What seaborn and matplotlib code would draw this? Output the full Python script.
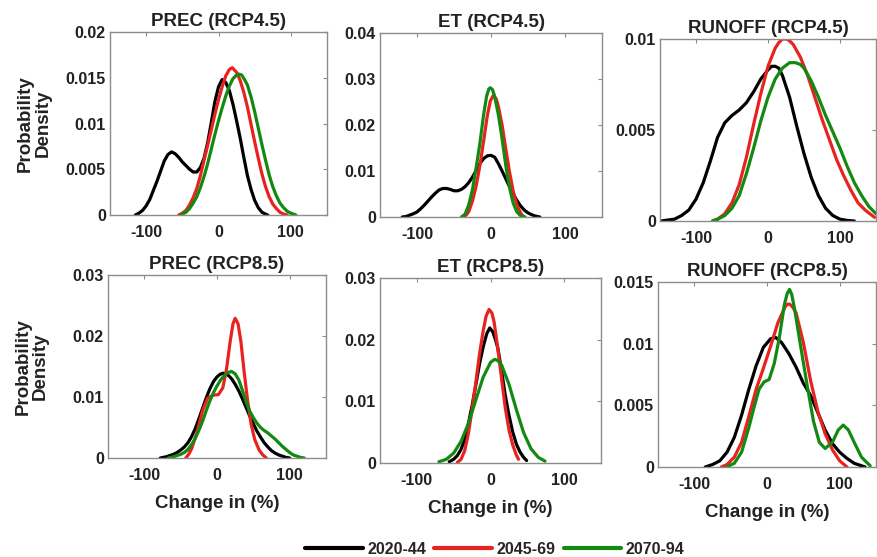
import matplotlib
matplotlib.use("Agg")
import matplotlib.pyplot as plt
import pandas as pd
import seaborn as sns
from matplotlib.lines import Line2D

PERIODS = ["2020-44", "2045-69", "2070-94"]
COLORS = ["#000000", "#e8231f", "#128a12"]
X_TICKS = [-100, 0, 100]

# ---- PREC (RCP4.5) ----
prec45_x_2020 = [-115, -110, -105, -100, -95, -90, -85, -80, -75, -70, -65, -60, -55, -50, -45, -40, -35, -30, -25, -20, -15, -10, -5, 0, 5, 10, 15, 20, 25, 30, 35, 40, 45, 50, 55, 60, 65, 68]
prec45_y_2020 = [0, 0.0002, 0.0005, 0.0010, 0.0017, 0.0027, 0.0037, 0.0048, 0.0059, 0.0066, 0.0069, 0.0067, 0.0063, 0.0058, 0.0054, 0.0050, 0.0047, 0.0047, 0.0052, 0.0062, 0.0079, 0.0101, 0.0124, 0.0140, 0.0148, 0.0145, 0.0136, 0.0121, 0.0103, 0.0084, 0.0063, 0.0043, 0.0028, 0.0016, 0.0008, 0.0003, 0.0001, 0]
prec45_x_2045 = [-55, -50, -45, -40, -35, -30, -25, -20, -15, -10, -5, 0, 5, 10, 15, 19, 25, 30, 35, 40, 45, 50, 55, 60, 65, 70, 75, 80, 85, 90, 95]
prec45_y_2045 = [0, 0.0002, 0.0005, 0.0011, 0.0019, 0.0029, 0.0043, 0.0060, 0.0076, 0.0093, 0.0110, 0.0126, 0.0140, 0.0152, 0.0159, 0.0161, 0.0156, 0.0147, 0.0134, 0.0118, 0.0099, 0.0080, 0.0062, 0.0045, 0.0031, 0.0020, 0.0012, 0.0007, 0.0003, 0.0001, 0]
prec45_x_2070 = [-52, -50, -45, -40, -35, -30, -25, -20, -15, -10, -5, 0, 5, 10, 15, 20, 25, 28, 32, 36, 40, 45, 50, 55, 60, 65, 70, 75, 80, 85, 90, 95, 100, 107]
prec45_y_2070 = [0, 0.0001, 0.0003, 0.0007, 0.0013, 0.0020, 0.0030, 0.0042, 0.0056, 0.0072, 0.0088, 0.0103, 0.0117, 0.0130, 0.0141, 0.0149, 0.0153, 0.0154, 0.0153, 0.0148, 0.0142, 0.0129, 0.0113, 0.0095, 0.0077, 0.0060, 0.0044, 0.0031, 0.0021, 0.0013, 0.0008, 0.0004, 0.0002, 0]

# ---- ET (RCP4.5) ----
et45_x_2020 = [-120, -115, -110, -105, -100, -95, -90, -85, -80, -75, -70, -65, -60, -55, -50, -45, -40, -35, -30, -25, -20, -15, -10, -5, 0, 5, 10, 15, 20, 25, 30, 35, 40, 45, 50, 55, 60, 66]
et45_y_2020 = [0, 0.0001, 0.0004, 0.0007, 0.0011, 0.0018, 0.0026, 0.0035, 0.0044, 0.0052, 0.0059, 0.0062, 0.0062, 0.0060, 0.0057, 0.0057, 0.0060, 0.0066, 0.0075, 0.0087, 0.0101, 0.0116, 0.0127, 0.0133, 0.0134, 0.0130, 0.0116, 0.0100, 0.0083, 0.0066, 0.0050, 0.0036, 0.0024, 0.0015, 0.0009, 0.0005, 0.0002, 0]
et45_x_2045 = [-37, -33, -30, -25, -20, -15, -10, -5, -1, 3, 7, 10, 15, 20, 25, 30, 35, 40, 44]
et45_y_2045 = [0, 0.0005, 0.0012, 0.0035, 0.0068, 0.0112, 0.0165, 0.0220, 0.0252, 0.0264, 0.0257, 0.0240, 0.0200, 0.0148, 0.0098, 0.0056, 0.0026, 0.0009, 0]
et45_x_2070 = [-40, -35, -30, -25, -20, -15, -10, -6, -3, -1, 2, 5, 10, 15, 20, 25, 30, 35, 40, 46]
et45_y_2070 = [0, 0.0006, 0.0027, 0.0060, 0.0108, 0.0160, 0.0222, 0.0262, 0.0278, 0.0281, 0.0277, 0.0262, 0.0222, 0.0170, 0.0112, 0.0064, 0.0030, 0.0011, 0.0003, 0]

# ---- RUNOFF (RCP4.5) ----
run45_x_2020 = [-148, -140, -130, -120, -110, -100, -90, -80, -70, -60, -50, -40, -30, -20, -10, 0, 5, 10, 15, 20, 30, 40, 50, 60, 70, 80, 90, 100, 110, 120]
run45_y_2020 = [0, 0.00005, 0.0001, 0.0003, 0.0006, 0.0012, 0.0021, 0.0033, 0.0046, 0.0054, 0.0058, 0.0061, 0.0065, 0.0071, 0.0078, 0.0083, 0.0085, 0.0085, 0.0084, 0.0080, 0.0068, 0.0052, 0.0037, 0.0024, 0.0014, 0.0007, 0.0003, 0.0001, 0.00003, 0]
run45_x_2045 = [-77, -70, -60, -50, -40, -30, -20, -10, 0, 10, 15, 20, 26, 30, 35, 45, 55, 65, 75, 85, 95, 105, 115, 125, 135, 148]
run45_y_2045 = [0, 0.0001, 0.0004, 0.0010, 0.0020, 0.0035, 0.0053, 0.0070, 0.0085, 0.0095, 0.0098, 0.0100, 0.0100, 0.0099, 0.0097, 0.0090, 0.0080, 0.0068, 0.0056, 0.0045, 0.0034, 0.0025, 0.0017, 0.0010, 0.0006, 0.0002]
run45_x_2070 = [-77, -70, -60, -50, -40, -30, -20, -10, 0, 10, 20, 30, 38, 45, 50, 60, 70, 80, 90, 100, 110, 120, 130, 140, 150]
run45_y_2070 = [0, 0.0001, 0.0003, 0.0007, 0.0014, 0.0026, 0.0040, 0.0055, 0.0068, 0.0078, 0.0084, 0.0087, 0.0087, 0.0086, 0.0084, 0.0077, 0.0068, 0.0058, 0.0049, 0.0040, 0.0030, 0.0021, 0.0014, 0.0008, 0.0004]

# ---- PREC (RCP8.5) ----
prec85_x_2020 = [-78, -70, -65, -60, -55, -50, -45, -40, -35, -30, -25, -20, -15, -10, -5, 0, 4, 8, 12, 16, 20, 25, 30, 35, 40, 45, 50, 55, 60, 65, 70, 75, 80, 85, 90, 95, 100]
prec85_y_2020 = [0, 0.0002, 0.0004, 0.0006, 0.0009, 0.0013, 0.0018, 0.0025, 0.0035, 0.0048, 0.0064, 0.0081, 0.0098, 0.0113, 0.0125, 0.0133, 0.0137, 0.0139, 0.0138, 0.0135, 0.0130, 0.0121, 0.0110, 0.0097, 0.0083, 0.0069, 0.0056, 0.0044, 0.0034, 0.0025, 0.0018, 0.0012, 0.0008, 0.0005, 0.0003, 0.0001, 0]
prec85_x_2045 = [-43, -39, -35, -28, -20, -13, -5, 2, 8, 13, 18, 22, 25, 29, 33, 37, 42, 47, 52, 58, 63, 68]
prec85_y_2045 = [0, 0.0006, 0.0015, 0.0040, 0.0077, 0.0098, 0.0103, 0.0104, 0.0115, 0.0145, 0.0190, 0.0220, 0.0229, 0.0220, 0.0190, 0.0145, 0.0095, 0.0055, 0.0030, 0.0013, 0.0005, 0]
prec85_x_2070 = [-67, -60, -55, -50, -45, -40, -35, -30, -25, -20, -15, -10, -5, 0, 5, 10, 15, 20, 25, 30, 35, 40, 45, 50, 55, 60, 65, 70, 75, 80, 85, 90, 95, 100, 105, 110, 115, 120]
prec85_y_2070 = [0, 0.0002, 0.0004, 0.0006, 0.0009, 0.0014, 0.0022, 0.0032, 0.0045, 0.0060, 0.0077, 0.0093, 0.0107, 0.0118, 0.0128, 0.0135, 0.0140, 0.0142, 0.0138, 0.0128, 0.0111, 0.0092, 0.0077, 0.0066, 0.0057, 0.0050, 0.0045, 0.0041, 0.0036, 0.0031, 0.0025, 0.0019, 0.0014, 0.0009, 0.0005, 0.0003, 0.0001, 0]

# ---- ET (RCP8.5) ----
et85_x_2020 = [-56, -50, -45, -40, -35, -30, -25, -20, -15, -10, -5, -1, 3, 7, 10, 15, 20, 25, 30, 35, 40, 45, 49]
et85_y_2020 = [0.0002, 0.0006, 0.0012, 0.0022, 0.0038, 0.0064, 0.0093, 0.0126, 0.0160, 0.0188, 0.0210, 0.0219, 0.0213, 0.0199, 0.0186, 0.0150, 0.0110, 0.0078, 0.0051, 0.0031, 0.0018, 0.0009, 0.0004]
et85_x_2045 = [-45, -40, -35, -30, -25, -20, -15, -10, -6, -2, 2, 5, 10, 15, 20, 25, 30, 35, 38]
et85_y_2045 = [0.0001, 0.0006, 0.0020, 0.0048, 0.0087, 0.0130, 0.0176, 0.0214, 0.0238, 0.0249, 0.0243, 0.0228, 0.0185, 0.0137, 0.0090, 0.0054, 0.0030, 0.0013, 0.0006]
et85_x_2070 = [-70, -60, -50, -40, -30, -20, -10, 0, 3, 6, 10, 15, 25, 35, 45, 55, 65, 74]
et85_y_2070 = [0.0002, 0.0006, 0.0016, 0.0035, 0.0064, 0.0102, 0.0139, 0.0163, 0.0166, 0.0168, 0.0166, 0.0159, 0.0128, 0.0087, 0.0049, 0.0023, 0.0009, 0.0003]

# ---- RUNOFF (RCP8.5) ----
run85_x_2020 = [-85, -75, -65, -55, -45, -35, -25, -15, -5, 5, 12, 20, 30, 40, 50, 60, 70, 80, 90, 100, 110, 120, 135]
run85_y_2020 = [0, 0.0002, 0.0005, 0.0012, 0.0024, 0.0042, 0.0063, 0.0082, 0.0097, 0.0104, 0.0105, 0.0101, 0.0092, 0.0081, 0.0068, 0.0058, 0.0044, 0.0030, 0.0019, 0.0012, 0.0007, 0.0003, 0]
run85_x_2045 = [-63, -55, -45, -35, -25, -15, -5, 5, 15, 25, 28, 31, 35, 40, 50, 60, 70, 80, 90, 100, 110]
run85_y_2045 = [0, 0.0002, 0.0008, 0.0020, 0.0041, 0.0063, 0.0080, 0.0098, 0.0117, 0.0130, 0.0132, 0.0132, 0.0130, 0.0125, 0.0101, 0.0070, 0.0045, 0.0027, 0.0014, 0.0005, 0]
run85_x_2070 = [-56, -45, -35, -25, -18, -11, -4, 3, 10, 17, 24, 28, 31, 34, 38, 46, 55, 64, 72, 80, 90, 98, 105, 112, 120, 130, 142]
run85_y_2070 = [0, 0.0003, 0.0012, 0.0032, 0.0048, 0.0063, 0.0069, 0.0071, 0.0084, 0.0105, 0.0132, 0.0141, 0.0144, 0.0140, 0.0128, 0.0099, 0.0067, 0.0037, 0.0020, 0.0015, 0.0020, 0.0030, 0.0034, 0.0030, 0.0020, 0.0008, 0.0001]


def frame(xs, ys):
    parts = []
    for period, x, y in zip(PERIODS, xs, ys):
        parts.append(pd.DataFrame({"change": x, "density": y, "period": period}))
    return pd.concat(parts, ignore_index=True)


panels = [
    ("PREC (RCP4.5)", frame([prec45_x_2020, prec45_x_2045, prec45_x_2070], [prec45_y_2020, prec45_y_2045, prec45_y_2070]),
     [0, 0.005, 0.01, 0.015, 0.02], ["0", "0.005", "0.01", "0.015", "0.02"]),
    ("ET (RCP4.5)", frame([et45_x_2020, et45_x_2045, et45_x_2070], [et45_y_2020, et45_y_2045, et45_y_2070]),
     [0, 0.01, 0.02, 0.03, 0.04], ["0", "0.01", "0.02", "0.03", "0.04"]),
    ("RUNOFF (RCP4.5)", frame([run45_x_2020, run45_x_2045, run45_x_2070], [run45_y_2020, run45_y_2045, run45_y_2070]),
     [0, 0.005, 0.01], ["0", "0.005", "0.01"]),
    ("PREC (RCP8.5)", frame([prec85_x_2020, prec85_x_2045, prec85_x_2070], [prec85_y_2020, prec85_y_2045, prec85_y_2070]),
     [0, 0.01, 0.02, 0.03], ["0", "0.01", "0.02", "0.03"]),
    ("ET (RCP8.5)", frame([et85_x_2020, et85_x_2045, et85_x_2070], [et85_y_2020, et85_y_2045, et85_y_2070]),
     [0, 0.01, 0.02, 0.03], ["0", "0.01", "0.02", "0.03"]),
    ("RUNOFF (RCP8.5)", frame([run85_x_2020, run85_x_2045, run85_x_2070], [run85_y_2020, run85_y_2045, run85_y_2070]),
     [0, 0.005, 0.01, 0.015], ["0", "0.005", "0.01", "0.015"]),
]

sns.set_style("white")
plt.rcParams["font.family"] = ["Liberation Sans", "DejaVu Sans"]
plt.rcParams["font.weight"] = "bold"
plt.rcParams["axes.unicode_minus"] = False

W, H = 877, 557
fig = plt.figure(figsize=(W / 100, H / 100), dpi=100)
fig.patch.set_facecolor("white")

# panel boxes in pixels: left, top, right, bottom
boxes = [
    (110, 32, 327, 215), (380, 33, 602, 217), (660, 39, 876, 221),
    (108, 275, 326, 458), (380, 278, 601, 463), (658, 282, 876, 467),
]

palette = dict(zip(PERIODS, COLORS))
edge = "#8c8c8c"

for i, ((title, df, yticks, ylabels), (l, t, r, b)) in enumerate(zip(panels, boxes)):
    ax = fig.add_axes([l / W, 1 - b / H, (r - l) / W, (b - t) / H])
    sns.lineplot(data=df, x="change", y="density", hue="period", palette=palette,
                 estimator=None, legend=False, linewidth=2.3, ax=ax)
    for ln in ax.get_lines():
        ln.set_solid_joinstyle("round")
        ln.set_solid_capstyle("round")
    ax.set_xlim(-150, 150)
    ax.set_ylim(yticks[0], yticks[-1])
    ax.set_xticks(X_TICKS)
    ax.set_xticklabels([str(v) for v in X_TICKS])
    ax.set_yticks(yticks)
    ax.set_yticklabels(ylabels)
    ax.tick_params(direction="in", top=True, right=True, length=3, width=0.8,
                   color=edge, labelsize=11.5, labelcolor="#222222")
    ax.tick_params(axis="x", pad=7)
    ax.tick_params(axis="y", pad=3)
    for s in ax.spines.values():
        s.set_color(edge)
        s.set_linewidth(1.0)
        s.set_visible(True)
    ax.set_title(title, fontsize=13.5, fontweight="bold", color="#222222", pad=4)
    if i % 3 == 0:
        ax.set_ylabel("Probability\nDensity", fontsize=13.5, fontweight="bold",
                      color="#222222", linespacing=1.05)
        ax.yaxis.set_label_coords(-0.27, 0.5)
    else:
        ax.set_ylabel("")
    if i >= 3:
        ax.set_xlabel("Change in (%)", fontsize=13.5, fontweight="bold", color="#222222")
        ax.xaxis.set_label_coords(0.5, -0.2)
    else:
        ax.set_xlabel("")

handles = [Line2D([0], [0], color=c, lw=3) for c in COLORS]
fig.legend(handles, PERIODS, loc="center", bbox_to_anchor=(495 / W, 1 - 549 / H), ncol=3,
           frameon=False, handlelength=3.6, handletextpad=0.3, columnspacing=0.5,
           prop={"weight": "bold", "size": 11.5})

fig.savefig("out.png", dpi=100, facecolor="white")
